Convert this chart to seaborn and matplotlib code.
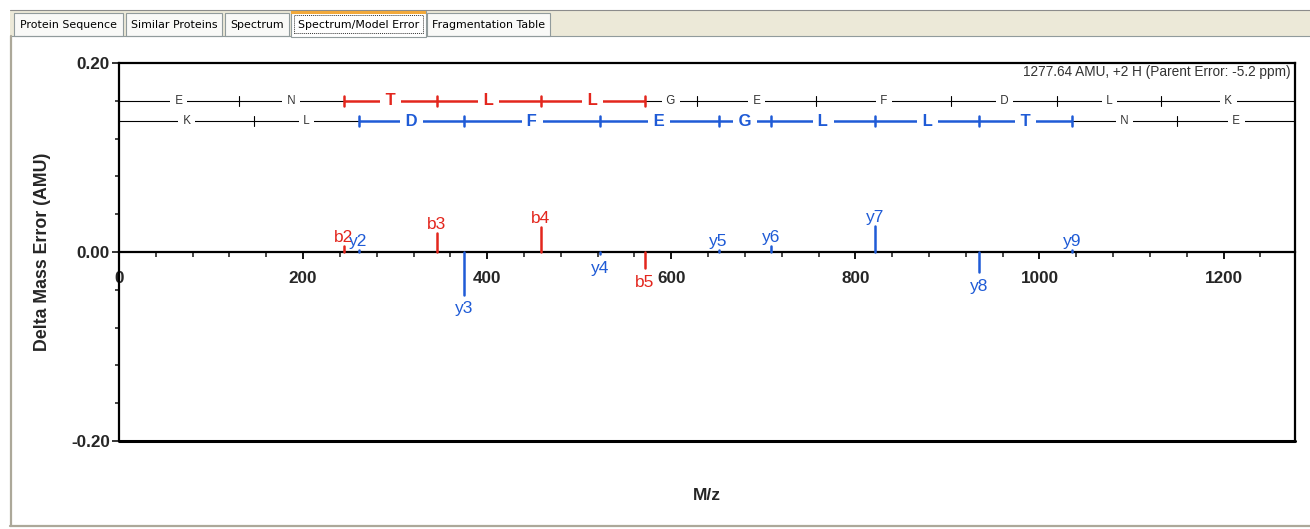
import numpy as np
import pandas as pd
import matplotlib
matplotlib.use("Agg")
import matplotlib.pyplot as plt
import matplotlib.patches as mpatches
from matplotlib.lines import Line2D
from matplotlib.ticker import MultipleLocator
import seaborn as sns

# ---------------- data ----------------
sequence = list("ENTLLGEFDLK")
parent_mass = 1277.64
b_ion_mz = [130.05, 244.09, 345.14, 458.22, 571.31, 628.33, 757.37, 904.44, 1019.47, 1132.55]
y_ion_mz = [147.11, 260.20, 375.22, 522.29, 651.33, 708.35, 821.44, 934.52, 1035.57, 1149.61]
b_matched = [2, 3, 4, 5]
b_errors = [0.006, 0.020, 0.026, -0.017]
y_matched = [2, 3, 4, 5, 6, 7, 8, 9]
y_errors = [0.002, -0.045, -0.002, 0.002, 0.006, 0.027, -0.021, 0.002]
x_ticks = [0, 200, 400, 600, 800, 1000, 1200]
y_ticks = [-0.20, 0.00, 0.20]
tab_labels = ["Protein Sequence", "Similar Proteins", "Spectrum",
              "Spectrum/Model Error", "Fragmentation Table"]
info_text = "1277.64 AMU, +2 H (Parent Error: -5.2 ppm)"

RED = "#e3261d"
BLUE = "#1f5bd6"
W, H = 1310, 529

sns.set_style("white")
plt.rcParams["font.family"] = ["Liberation Sans", "DejaVu Sans"]

fig = plt.figure(figsize=(W / 100, H / 100), dpi=100)
fig.patch.set_facecolor("white")


def fx(px):
    return px / W


def fy(py):
    return 1 - py / H


# ---------------- window chrome (tabs / panel) ----------------
fig.patches.append(mpatches.Rectangle((fx(10), fy(36)), fx(1300), 26 / H,
                                      transform=fig.transFigure, facecolor="#ECE9D8",
                                      edgecolor="none", zorder=0))
fig.add_artist(Line2D([fx(10), fx(1310)], [fy(10), fy(10)], transform=fig.transFigure,
                      color="#8c8c8c", lw=0.8))
tab_x = [(14, 123), (126, 222), (225, 289), (291, 426), (427, 550)]
for i, (lbl, (x0, x1)) in enumerate(zip(tab_labels, tab_x)):
    active = lbl == "Spectrum/Model Error"
    top = 11 if active else 13
    bottom = 37 if active else 36
    fig.patches.append(mpatches.Rectangle((fx(x0), fy(bottom)), fx(x1 - x0), (bottom - top) / H,
                                          transform=fig.transFigure,
                                          facecolor="white" if active else "#F9F9F7",
                                          edgecolor="#919B9C", lw=0.8, zorder=1))
    if active:
        fig.patches.append(mpatches.Rectangle((fx(x0), fy(14)), fx(x1 - x0), 3 / H,
                                              transform=fig.transFigure, facecolor="#F2A93B",
                                              edgecolor="none", zorder=2))
        fig.patches.append(mpatches.Rectangle((fx(x0 + 3), fy(33)), fx(x1 - x0 - 6), 18 / H,
                                              transform=fig.transFigure, facecolor="none",
                                              edgecolor="#333333", lw=0.7, ls=(0, (1, 1)),
                                              zorder=3))
    fig.text(fx((x0 + x1) / 2), fy(25.5), lbl, ha="center", va="center",
             fontsize=7.9, family="DejaVu Sans", color="black", zorder=4)

fig.add_artist(Line2D([fx(10), fx(291)], [fy(36), fy(36)], transform=fig.transFigure,
                      color="#919B9C", lw=0.8))
fig.add_artist(Line2D([fx(426), fx(1310)], [fy(36), fy(36)], transform=fig.transFigure,
                      color="#919B9C", lw=0.8))
fig.add_artist(Line2D([fx(10.5), fx(10.5)], [fy(36), fy(526)], transform=fig.transFigure,
                      color="#ACA899", lw=1.6))
fig.add_artist(Line2D([fx(10), fx(1310)], [fy(526), fy(526)], transform=fig.transFigure,
                      color="#ACA899", lw=1.6))

# ---------------- axes ----------------
ax = fig.add_axes([fx(119), fy(441), fx(1295 - 119), (441 - 63) / H])
ax.set_facecolor("white")
ax.set_xlim(0, parent_mass)
ax.set_ylim(-0.2, 0.2)

# peaks (stems) via seaborn
rows = []
for n, mz_i, err in zip(b_matched, [b_ion_mz[n - 1] for n in b_matched], b_errors):
    rows += [dict(ion=f"b{n}", series="b", mz=mz_i, err=0.0),
             dict(ion=f"b{n}", series="b", mz=mz_i, err=err)]
for n, mz_i, err in zip(y_matched, [y_ion_mz[n - 1] for n in y_matched], y_errors):
    rows += [dict(ion=f"y{n}", series="y", mz=mz_i, err=0.0),
             dict(ion=f"y{n}", series="y", mz=mz_i, err=err)]
stems = pd.DataFrame(rows)
sns.lineplot(data=stems, x="mz", y="err", hue="series", units="ion", estimator=None,
             palette={"b": RED, "y": BLUE}, legend=False, lw=1.8, ax=ax, sort=False,
             zorder=3)

peaks = stems.groupby("ion", sort=False).last().reset_index()
for _, r in peaks.iterrows():
    col = RED if r["series"] == "b" else BLUE
    if r["err"] >= 0:
        ax.annotate(r["ion"], xy=(r["mz"], r["err"]), xytext=(0, 1), textcoords="offset points",
                    ha="center", va="bottom", color=col, fontsize=12.5, zorder=5)
    else:
        ax.annotate(r["ion"], xy=(r["mz"], r["err"]), xytext=(0, -4.8), textcoords="offset points",
                    ha="center", va="top", color=col, fontsize=12.5, zorder=5)

# sequence ladder
def draw_ladder(yrow, letters, ions, matched, color):
    bounds = [0.0] + list(ions) + [parent_mass]
    for i, let in enumerate(letters):
        a, b = bounds[i], bounds[i + 1]
        hit = (i in matched) and ((i + 1) in matched)
        c = color if hit else "black"
        ax.plot([a, b], [yrow, yrow], color=c, lw=1.8 if hit else 0.8, zorder=2,
                solid_capstyle="butt")
        if hit:
            ax.text((a + b) / 2, yrow, f" {let} ", ha="center", va="center", color=c,
                    fontsize=12, fontweight="bold", zorder=4,
                    bbox=dict(boxstyle="square,pad=0.05", fc="white", ec="none"))
        else:
            ax.text((a + b) / 2, yrow, f" {let} ", ha="center", va="center", color="#333333",
                    fontsize=8.3, zorder=4,
                    bbox=dict(boxstyle="square,pad=0.12", fc="white", ec="none"))
    for k, m in enumerate(ions, start=1):
        hit = k in matched
        ax.plot([m, m], [yrow - 0.0055, yrow + 0.0055], color=color if hit else "black",
                lw=1.8 if hit else 0.8, zorder=3)


draw_ladder(0.16, sequence, b_ion_mz, b_matched, RED)
draw_ladder(0.1385, sequence[::-1], y_ion_mz, y_matched, BLUE)

ax.text(0.996, 0.976, info_text, transform=ax.transAxes, ha="right", va="center",
        fontsize=9.8, color="#333333")

# spines / ticks
for s in ["left", "right", "top", "bottom"]:
    ax.spines[s].set_visible(True)
    ax.spines[s].set_color("black")
    ax.spines[s].set_linewidth(1.6)
ax.spines["bottom"].set_position(("data", 0))
ax.axhline(-0.2, color="black", lw=2.2, clip_on=False, zorder=6)

ax.set_xticks(x_ticks, labels=[str(v) for v in x_ticks], fontweight="bold", fontsize=12.3)
ax.set_yticks(y_ticks, labels=[f"{v:.2f}" for v in y_ticks], fontweight="bold", fontsize=12.3)
ax.xaxis.set_minor_locator(MultipleLocator(40))
ax.yaxis.set_minor_locator(MultipleLocator(0.04))
ax.tick_params(axis="x", which="major", direction="out", length=5, width=1.3, pad=8.5,
               bottom=True, color="black")
ax.tick_params(axis="x", which="minor", direction="out", length=3.5, width=1.2, bottom=True)
ax.tick_params(axis="y", which="major", direction="out", length=5, width=1.3, pad=1.5,
               left=True)
ax.tick_params(axis="y", which="minor", direction="out", length=3, width=1.2, left=True)

ax.set_xlabel("M/z", fontsize=12.5, fontweight="bold")
ax.xaxis.set_label_coords(0.5, -0.125)
ax.set_ylabel("Delta Mass Error (AMU)", fontsize=12.8, fontweight="bold")
ax.yaxis.set_label_coords(-0.058, 0.5)

fig.savefig("out.png", dpi=100, facecolor="white")
